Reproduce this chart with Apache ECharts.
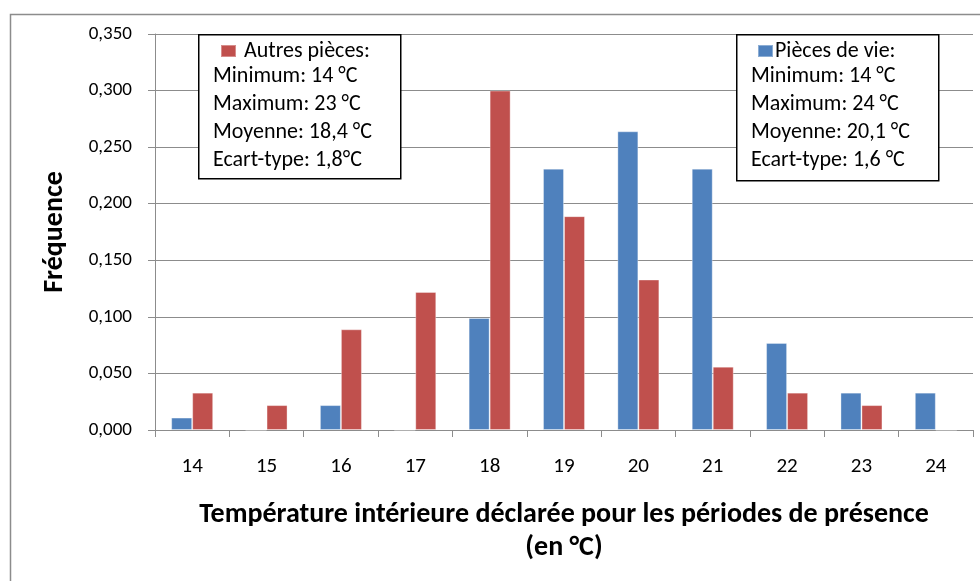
<!DOCTYPE html>
<html>
<head>
<meta charset="utf-8">
<script src="https://cdn.jsdelivr.net/npm/echarts@6/dist/echarts.min.js"></script>
<style>
  html, body { margin: 0; padding: 0; background: #fff; }
  #chart { width: 980px; height: 581px; }
</style>
</head>
<body>
<div id="chart"></div>
<script>
// temperatures (°C)
var categories = ['14', '15', '16', '17', '18', '19', '20', '21', '22', '23', '24']
// fréquences
var pieceVie = [0.011, 0, 0.022, 0, 0.099, 0.231, 0.264, 0.231, 0.077, 0.033, 0.033]
var autresPieces = [0.033, 0.022, 0.089, 0.122, 0.300, 0.189, 0.133, 0.056, 0.033, 0.022, 0]
var statsAutres = ['Minimum: 14 °C', 'Maximum: 23 °C', 'Moyenne: 18,4 °C', 'Ecart-type: 1,8°C']
var statsVie = ['Minimum: 14 °C', 'Maximum: 24 °C', 'Moyenne: 20,1 °C', 'Ecart-type: 1,6 °C']

var font = 'Carlito, Lato, "Open Sans", sans-serif'
var gridColor = '#8c8c8c'

function statText (lines, x, y) {
  return {
    type: 'text',
    left: x,
    top: y,
    z: 11,
    style: {
      text: lines.join('\n'),
      font: '22px ' + font,
      lineHeight: 28,
      fill: '#000'
    }
  }
}

var myChart = echarts.init(document.getElementById('chart'))

var option = {
  backgroundColor: '#fff',
  animation: false,
  textStyle: { fontFamily: font },
  grid: { left: 155, right: 7, top: 34, bottom: 151, containLabel: false },
  legend: [
    {
      data: ['Autres pièces'],
      left: 215,
      top: 35,
      z: 12,
      itemWidth: 15,
      itemHeight: 12,
      icon: 'rect',
      formatter: function (n) { return n + ':' },
      textStyle: { fontSize: 22, color: '#000', padding: [0, 0, 0, 3] }
    },
    {
      data: ['Pièces de vie'],
      left: 752,
      top: 35,
      z: 12,
      itemWidth: 15,
      itemHeight: 12,
      icon: 'rect',
      formatter: function (n) { return n + ':' },
      textStyle: { fontSize: 22, color: '#000', padding: [0, 0, 0, -3] }
    }
  ],
  xAxis: {
    type: 'category',
    data: categories,
    name: 'Température intérieure déclarée pour les périodes de présence\n(en °C)',
    nameLocation: 'middle',
    nameGap: 68,
    nameTextStyle: { fontSize: 28, fontWeight: 'bold', color: '#000', lineHeight: 33, align: 'center' },
    axisLine: { lineStyle: { color: gridColor } },
    axisTick: { show: true, length: 7, lineStyle: { color: gridColor } },
    axisLabel: { fontSize: 21, color: '#000', margin: 26 }
  },
  yAxis: {
    type: 'value',
    min: 0,
    max: 0.35,
    interval: 0.05,
    name: 'Fréquence',
    nameLocation: 'middle',
    nameGap: 86,
    nameTextStyle: { fontSize: 28, fontWeight: 'bold', color: '#000' },
    axisLine: { show: true, lineStyle: { color: gridColor } },
    axisTick: { show: true, length: 7, inside: false, lineStyle: { color: gridColor } },
    splitLine: { lineStyle: { color: gridColor, width: 1 } },
    axisLabel: {
      fontSize: 19,
      color: '#000',
      margin: 23,
      formatter: function (v) { return v.toFixed(3).replace('.', ',') }
    }
  },
  series: [
    {
      name: 'Pièces de vie',
      type: 'bar',
      data: pieceVie,
      barWidth: 21,
      barGap: '0%',
      itemStyle: { color: '#4F81BD', borderColor: 'rgba(255,255,255,0.35)', borderWidth: 1 }
    },
    {
      name: 'Autres pièces',
      type: 'bar',
      data: autresPieces,
      barWidth: 21,
      barGap: '0%',
      itemStyle: { color: '#C0504D', borderColor: 'rgba(255,255,255,0.35)', borderWidth: 1 }
    }
  ],
  graphic: [
    {
      type: 'rect',
      left: 8,
      top: 12,
      z: 0,
      silent: true,
      shape: { width: 1000, height: 620 },
      style: { fill: 'none', stroke: '#8c8c8c', lineWidth: 1.5 }
    },
    {
      type: 'rect',
      left: 198,
      top: 34,
      z: 10,
      shape: { width: 202, height: 144 },
      style: { fill: '#fff', stroke: '#000', lineWidth: 1.5 }
    },
    {
      type: 'rect',
      left: 736,
      top: 34,
      z: 10,
      shape: { width: 202, height: 146 },
      style: { fill: '#fff', stroke: '#000', lineWidth: 1.5 }
    },
    statText(statsAutres, 213, 62),
    statText(statsVie, 751, 62)
  ]
}

myChart.setOption(option)
</script>
</body>
</html>
